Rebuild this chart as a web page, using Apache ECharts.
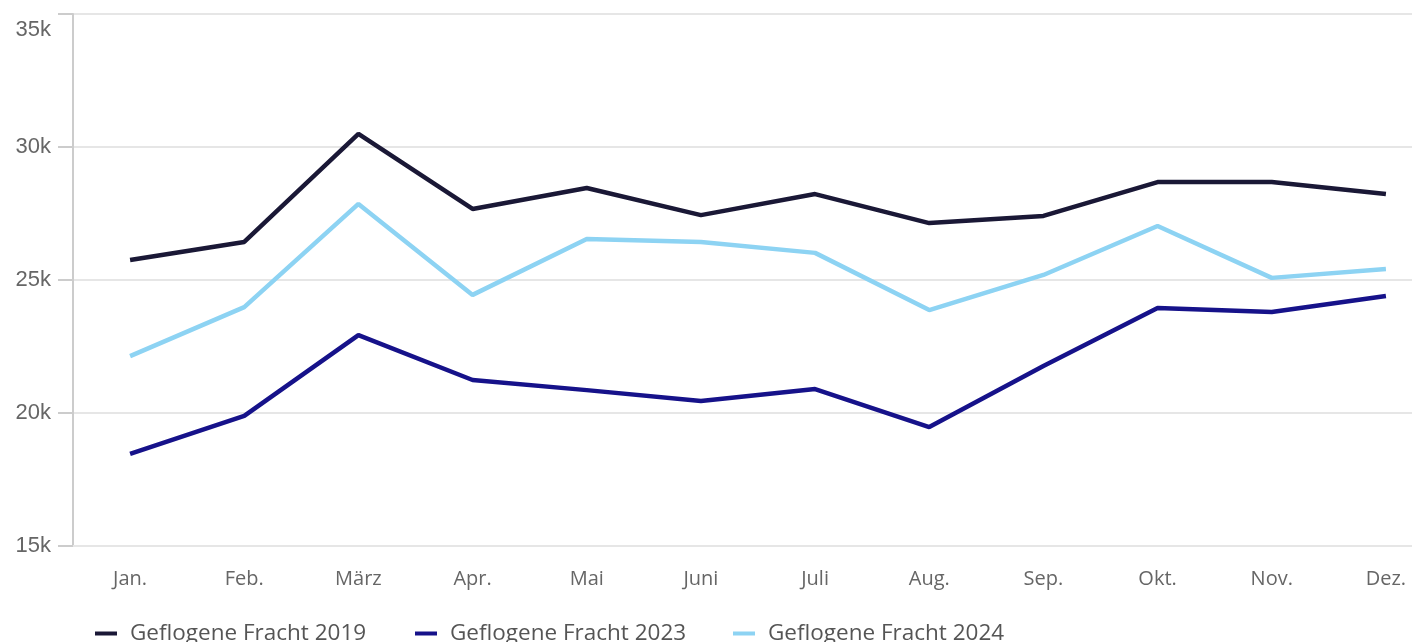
<!DOCTYPE html>
<html><head><meta charset="utf-8">
<script src="https://cdn.jsdelivr.net/npm/echarts@6/dist/echarts.min.js"></script>
<style>html,body{margin:0;padding:0;background:#fff}#c{width:1412px;height:642px}</style>
</head><body><div id="c"></div>
<script>
const months = ['Jan.','Feb.','März','Apr.','Mai','Juni','Juli','Aug.','Sep.','Okt.','Nov.','Dez.'];
const seriesNames = ['Geflogene Fracht 2019','Geflogene Fracht 2023','Geflogene Fracht 2024'];
const fracht2019 = [25750,26430,30490,27670,28460,27440,28230,27140,27410,28680,28680,28230];
const fracht2023 = [18460,19890,22930,21240,20860,20450,20900,19470,21770,23950,23800,24400];
const fracht2024 = [22140,23980,27860,24440,26540,26430,26020,23870,25190,27030,25080,25410];
const colors = ['#1a1836','#16128a','#8dd3f3'];
const yTicks = [15000,20000,25000,30000,35000];

const chart = echarts.init(document.getElementById('c'), null, {renderer:'canvas'});
const data = [fracht2019, fracht2023, fracht2024];
const legendLefts = [90, 410, 728];
chart.setOption({
  animation:false,
  color: colors,
  legend: seriesNames.map((n,i)=>({
    data:[n], left: legendLefts[i], top: 617, itemWidth:22, itemHeight:4, itemGap:18,
    icon:'rect',
    textStyle:{fontFamily:'Open Sans', fontSize:22.5, color:'#555', padding:[0,0,0,8]}
  })),
  grid:{left:73, top:14, width:1370, height:532, outerBoundsMode:'none', containLabel:false},
  xAxis:{
    type:'category', data:months, boundaryGap:true,
    axisLine:{lineStyle:{color:'#e6e6e6', width:2}},
    axisTick:{show:false},
    axisLabel:{fontFamily:'Open Sans', fontSize:20, color:'#666', margin:23, interval:0}
  },
  yAxis:{
    type:'value', min:yTicks[0], max:yTicks[yTicks.length-1], interval:5000,
    axisLine:{show:true, lineStyle:{color:'#cccccc', width:2}},
    axisTick:{show:true, length:15, lineStyle:{color:'#cccccc', width:2}},
    splitLine:{lineStyle:{color:'#e6e6e6', width:2}},
    axisLabel:{fontFamily:'Liberation Sans', fontSize:22, color:'#666', margin:22,
      formatter:v=> v===yTicks[yTicks.length-1] ? '{top|'+(v/1000)+'k}' : (v/1000)+'k',
      rich:{top:{fontFamily:'Liberation Sans', fontSize:22, color:'#666', padding:[32,0,0,0]}}}
  },
  series: seriesNames.map((n,i)=>({
    name:n, type:'line', data:data[i], showSymbol:false, symbol:'none',
    lineStyle:{width:4.5, color:colors[i]}, itemStyle:{color:colors[i]}
  }))
});
</script></body></html>
